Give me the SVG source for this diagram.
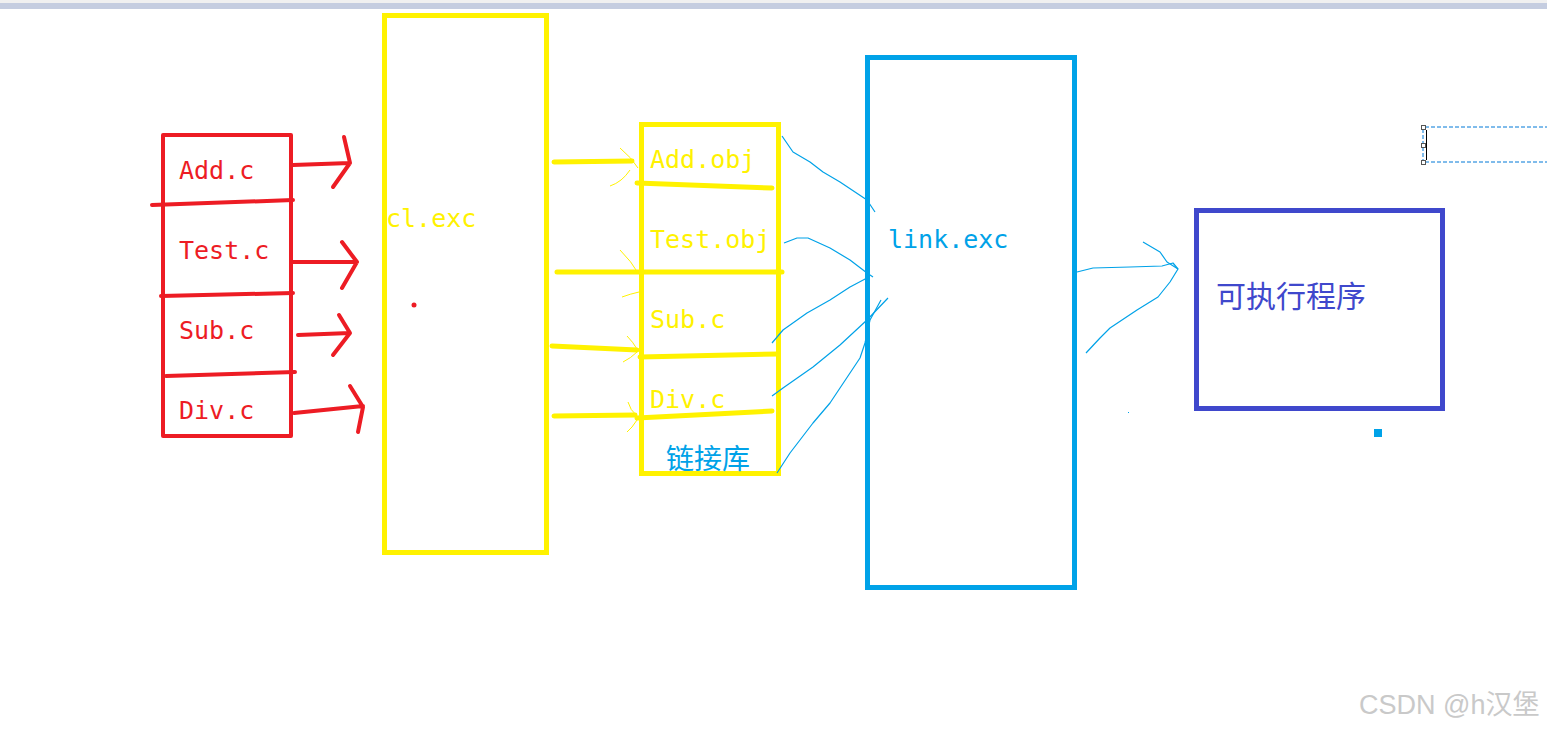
<svg xmlns="http://www.w3.org/2000/svg" width="1547" height="729" viewBox="0 0 1547 729">
<style>
.mono{font-family:"DejaVu Sans Mono","Liberation Mono",monospace;font-size:25px}
.cjk{font-family:"Noto Sans CJK SC","Noto Sans",sans-serif}
.red{stroke:#ed1c24;stroke-width:4;fill:none;stroke-linecap:round;stroke-linejoin:round}
.yel{stroke:#fff200;stroke-width:5;fill:none;stroke-linecap:round;stroke-linejoin:round}
.ythin{stroke:#fff200;stroke-width:1;fill:none}
.bthin{stroke:#00a2e8;stroke-width:1.2;fill:none;stroke-linejoin:round}
</style>
<rect x="0" y="0" width="1547" height="729" fill="#ffffff"/>
<rect x="0" y="0" width="1547" height="3" fill="#f0f0f0"/>
<rect x="0" y="3" width="1547" height="6" fill="#c5cde0"/>

<g id="sources">
<rect x="163" y="135" width="128" height="301" class="red"/>
<path class="red" d="M152,205 L293,200 M161,296 L293,293 M166,376 L295,372"/>
<text x="179" y="179" class="mono" fill="#ed1c24">Add.c</text>
<text x="179" y="259" class="mono" fill="#ed1c24">Test.c</text>
<text x="179" y="339" class="mono" fill="#ed1c24">Sub.c</text>
<text x="179" y="419" class="mono" fill="#ed1c24">Div.c</text>
</g>

<g id="compiler">
<rect x="384.5" y="15.5" width="162" height="537" fill="none" stroke="#fff200" stroke-width="5"/>
<text x="386" y="227" class="mono" fill="#fff200">cl.exc</text>
<circle cx="414" cy="305" r="2.5" fill="#ed1c24"/>
</g>

<g id="objects">
<rect x="641.5" y="124.5" width="137" height="349" fill="none" stroke="#fff200" stroke-width="5"/>
<path class="yel" d="M637,183 L772,188 M640,357 L778,354 M637,418 L772,411"/>
<text x="650" y="168" class="mono" fill="#fff200">Add.obj</text>
<text x="650" y="248" class="mono" fill="#fff200">Test.obj</text>
<text x="650" y="328" class="mono" fill="#fff200">Sub.c</text>
<text x="650" y="408" class="mono" fill="#fff200">Div.c</text>
<text x="666" y="469" class="cjk" font-size="28" fill="#00a2e8">链接库</text>
</g>

<g id="linker">
<rect x="867.5" y="57.5" width="207" height="530" fill="none" stroke="#00a2e8" stroke-width="5"/>
<text x="888" y="248" class="mono" fill="#00a2e8">link.exc</text>
</g>

<g id="executable">
<rect x="1196.5" y="210.5" width="246" height="198" fill="none" stroke="#3f48cc" stroke-width="5"/>
<text x="1216" y="307" class="cjk" font-size="30" fill="#3f48cc">可执行程序</text>
</g>

<g id="connectors">
<path class="red" d="M293,165 L350,163 M344,137 L350,163 L333,187"/>
<path class="red" d="M293,262 L357,262 M342,242 L357,262 L342,288"/>
<path class="red" d="M298,335 L350,333 M339,315 L350,333 L333,355"/>
<path class="red" d="M294,413 L363,406 M350,386 L363,407 L358,432"/>

<path class="yel" d="M554,162 L632,161 M557,272 L782,272 M552,346 L637,350 M554,416 L635,415"/>
<path class="ythin" d="M620,148 Q632,158 638,168 M630,170 Q622,182 610,186"/>
<path class="ythin" d="M620,250 Q632,262 638,273 M639,292 Q630,294 622,297"/>
<path class="ythin" d="M627,336 Q633,342 637,349 M637,352 Q631,358 623,362"/>
<path class="ythin" d="M628,402 Q630,410 637,416 M637,420 Q632,428 627,432"/>

<path class="bthin" d="M782,136 L793,152 L810,162 L823,172 L840,182 L867,200 L875,212"/>
<path class="bthin" d="M784,243 L797,238 L808,238 L830,248 L850,260 L867,273 L873,277"/>
<path class="bthin" d="M772,343 L783,330 L807,313 L830,300 L850,287 L867,278"/>
<path class="bthin" d="M772,396 L783,388 L813,367 L840,345 L867,320 L888,298"/>
<path class="bthin" d="M777,473 L790,453 L813,423 L830,403 L850,373 L860,358 L865,343 L870,320 L881,300"/>

<path class="bthin" d="M1077,272 L1093,268 L1130,267 L1162,266 L1173,263 L1178,269"/>
<path class="bthin" d="M1143,242 L1160,252 L1167,262 L1178,269 L1170,282 L1158,297 L1137,310 L1110,328 L1100,338 L1086,353"/>
<rect x="1128" y="412" width="1" height="1" fill="#00a2e8"/>
<rect x="1374" y="429" width="8" height="8" fill="#00a2e8"/>
</g>

<g id="selection">
<path d="M1425,127 H1547 M1425,162 H1547 M1423,129 V160" stroke="#0078d7" stroke-width="1" stroke-dasharray="4,2" fill="none"/>
<line x1="1426.5" y1="130" x2="1426.5" y2="160" stroke="#000" stroke-width="1"/>
<rect x="1421.5" y="125.5" width="4" height="4" fill="#fff" stroke="#555" stroke-width="1"/>
<rect x="1421.5" y="143.5" width="4" height="4" fill="#fff" stroke="#555" stroke-width="1"/>
<rect x="1421.5" y="160.5" width="4" height="4" fill="#fff" stroke="#555" stroke-width="1"/>
</g>

<text x="1359" y="714" font-family="'Liberation Sans','Noto Sans CJK SC',sans-serif" font-size="27" fill="#c9c9c9">CSDN @h汉堡</text>
</svg>
